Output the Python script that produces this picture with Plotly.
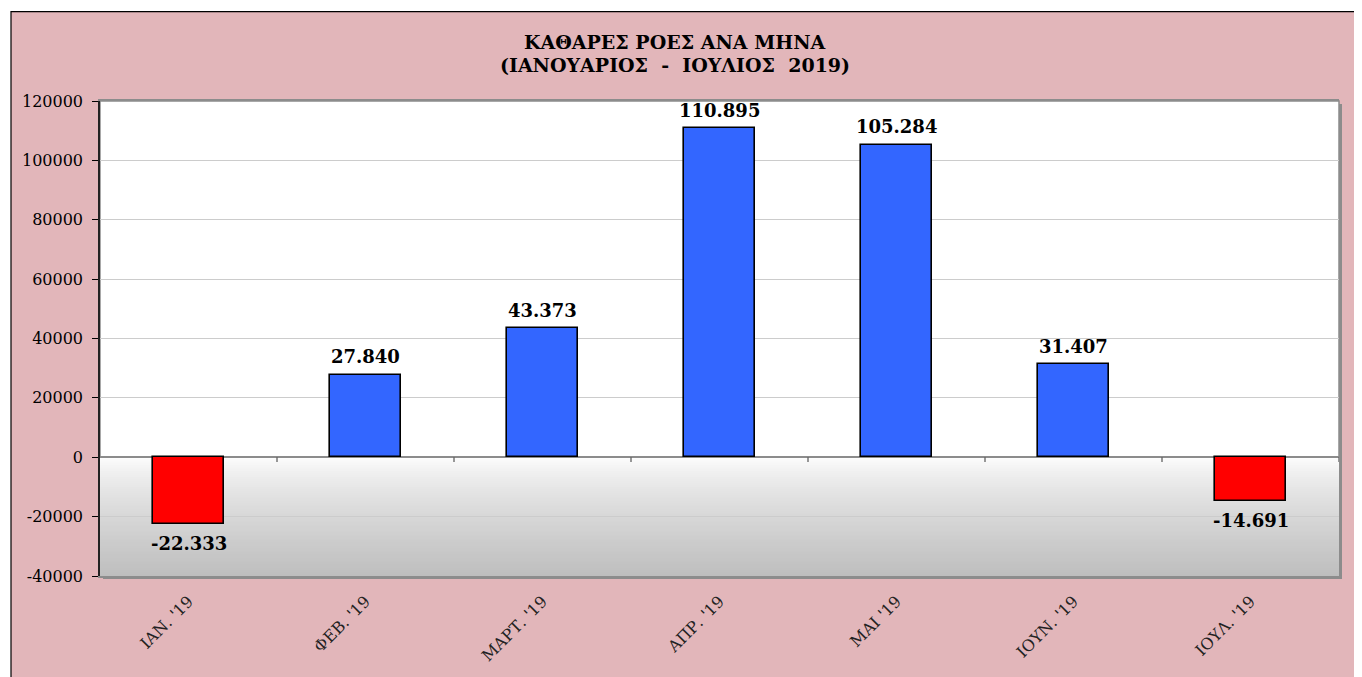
import plotly.graph_objects as go

# ---- data ----
months = ["ΙΑΝ. '19", "ΦΕΒ. '19", "ΜΑΡΤ. '19", "ΑΠΡ. '19", "ΜΑΙ '19", "ΙΟΥΝ. '19", "ΙΟΥΛ. '19"]
net_flows = [-22333, 27840, 43373, 110895, 105284, 31407, -14691]
y_ticks = [-40000, -20000, 0, 20000, 40000, 60000, 80000, 100000, 120000]
title_lines = ["ΚΑΘΑΡΕΣ ΡΟΕΣ ΑΝΑ ΜΗΝΑ", "(ΙΑΝΟΥΑΡΙΟΣ  -  ΙΟΥΛΙΟΣ  2019)"]

# page has an 8px body margin, so the figure is laid out in (screen - 8) coordinates
OFF = 8
W, H = 1362 - OFF, 677 - OFF
L, T = 100 - OFF, 101 - OFF
R = W - (1339 - OFF)
B = H - (579 - OFF)
pw, ph = W - L - R, H - T - B

xs = list(range(len(months)))
ymin, ymax = y_ticks[0], y_ticks[-1]

def fmt(v):
    s = f"{abs(v):,}".replace(",", ".")
    return ("-" if v < 0 else "") + s

def py(screen_y):
    return 1 - (screen_y - OFF - T) / ph

def px(screen_x):
    return (screen_x - OFF - L) / pw

colors = ["#3366ff" if v >= 0 else "#ff0000" for v in net_flows]

fig = go.Figure()
fig.add_trace(go.Bar(
    x=xs, y=net_flows, width=0.4,
    marker=dict(color=colors, line=dict(color="black", width=1.6)),
    hoverinfo="skip", showlegend=False,
))

shapes = []
# pink frame
shapes.append(dict(type="rect", xref="paper", yref="paper", layer="below",
                   x0=px(11), x1=px(1372), y0=py(687), y1=py(11),
                   fillcolor="#e2b6ba", line=dict(color="black", width=1.2)))
# shadow of plot area
shapes.append(dict(type="rect", xref="paper", yref="paper", layer="below",
                   x0=3 / pw, x1=1 + 3 / pw, y0=-3 / ph, y1=1 - 3 / ph,
                   fillcolor="#8c8c8c", line=dict(width=0)))
# plot area background
shapes.append(dict(type="rect", xref="paper", yref="paper", layer="below",
                   x0=0, x1=1, y0=0, y1=1,
                   fillcolor="white", line=dict(color="#8c8c8c", width=1.5)))
# gradient below zero (overlapping bands, each drawn down to the bottom)
n = 60
step = -ymin / n
for k in range(n):
    t = (k + 0.5) / n
    g = int(round(255 - (255 - 190) * t ** 0.72))
    shapes.append(dict(type="rect", xref="x", yref="y", layer="below",
                       x0=-0.5, x1=len(months) - 0.5,
                       y0=-k * step, y1=ymin,
                       fillcolor=f"rgb({g},{g},{g})", line=dict(width=0)))
# category boundary tick marks on the zero line
for k in range(len(months)):
    shapes.append(dict(type="line", xref="x", yref="y", layer="above",
                       x0=k + 0.5, x1=k + 0.5, y0=0, y1=-1600,
                       line=dict(color="#555555", width=1.2)))

annotations = []
for x, v in zip(xs, net_flows):
    annotations.append(dict(x=x, y=v, xref="x", yref="y", text=fmt(v), showarrow=False,
                            yshift=18 if v >= 0 else -20, yanchor="middle",
                            font=dict(family="DejaVu Serif", size=18, color="black", weight="bold")))
for line, sy in zip(title_lines, [42, 65]):
    annotations.append(dict(x=px(675), y=py(sy), xref="paper", yref="paper", text=line,
                            showarrow=False, xanchor="center", yanchor="middle",
                            font=dict(family="DejaVu Serif", size=19, color="black", weight="bold")))

fig.update_layout(
    width=W, height=H,
    margin=dict(l=L, r=R, t=T, b=B),
    paper_bgcolor="white",
    plot_bgcolor="rgba(0,0,0,0)",
    shapes=shapes,
    annotations=annotations,
    bargap=0,
)
fig.update_xaxes(
    range=[-0.5, len(months) - 0.5],
    tickvals=xs, ticktext=months, tickangle=-45,
    tickfont=dict(family="DejaVu Serif", size=16, color="#222222"),
    ticklabelstandoff=8,
    showgrid=False, zeroline=False, ticks="",
    showline=True, linecolor="#8c8c8c", linewidth=1.5, mirror=True,
)
fig.update_yaxes(
    range=[ymin, ymax], tickvals=y_ticks, ticktext=[str(v) for v in y_ticks],
    tickfont=dict(family="DejaVu Serif", size=16, color="black"),
    ticklabelstandoff=6,
    showgrid=True, gridcolor="#cccccc", gridwidth=1,
    zeroline=True, zerolinecolor="#8c8c8c", zerolinewidth=2,
    ticks="outside", ticklen=6, tickcolor="black",
    showline=True, linecolor="#222222", linewidth=1.5, mirror=False,
)

fig.write_html("out.html")
